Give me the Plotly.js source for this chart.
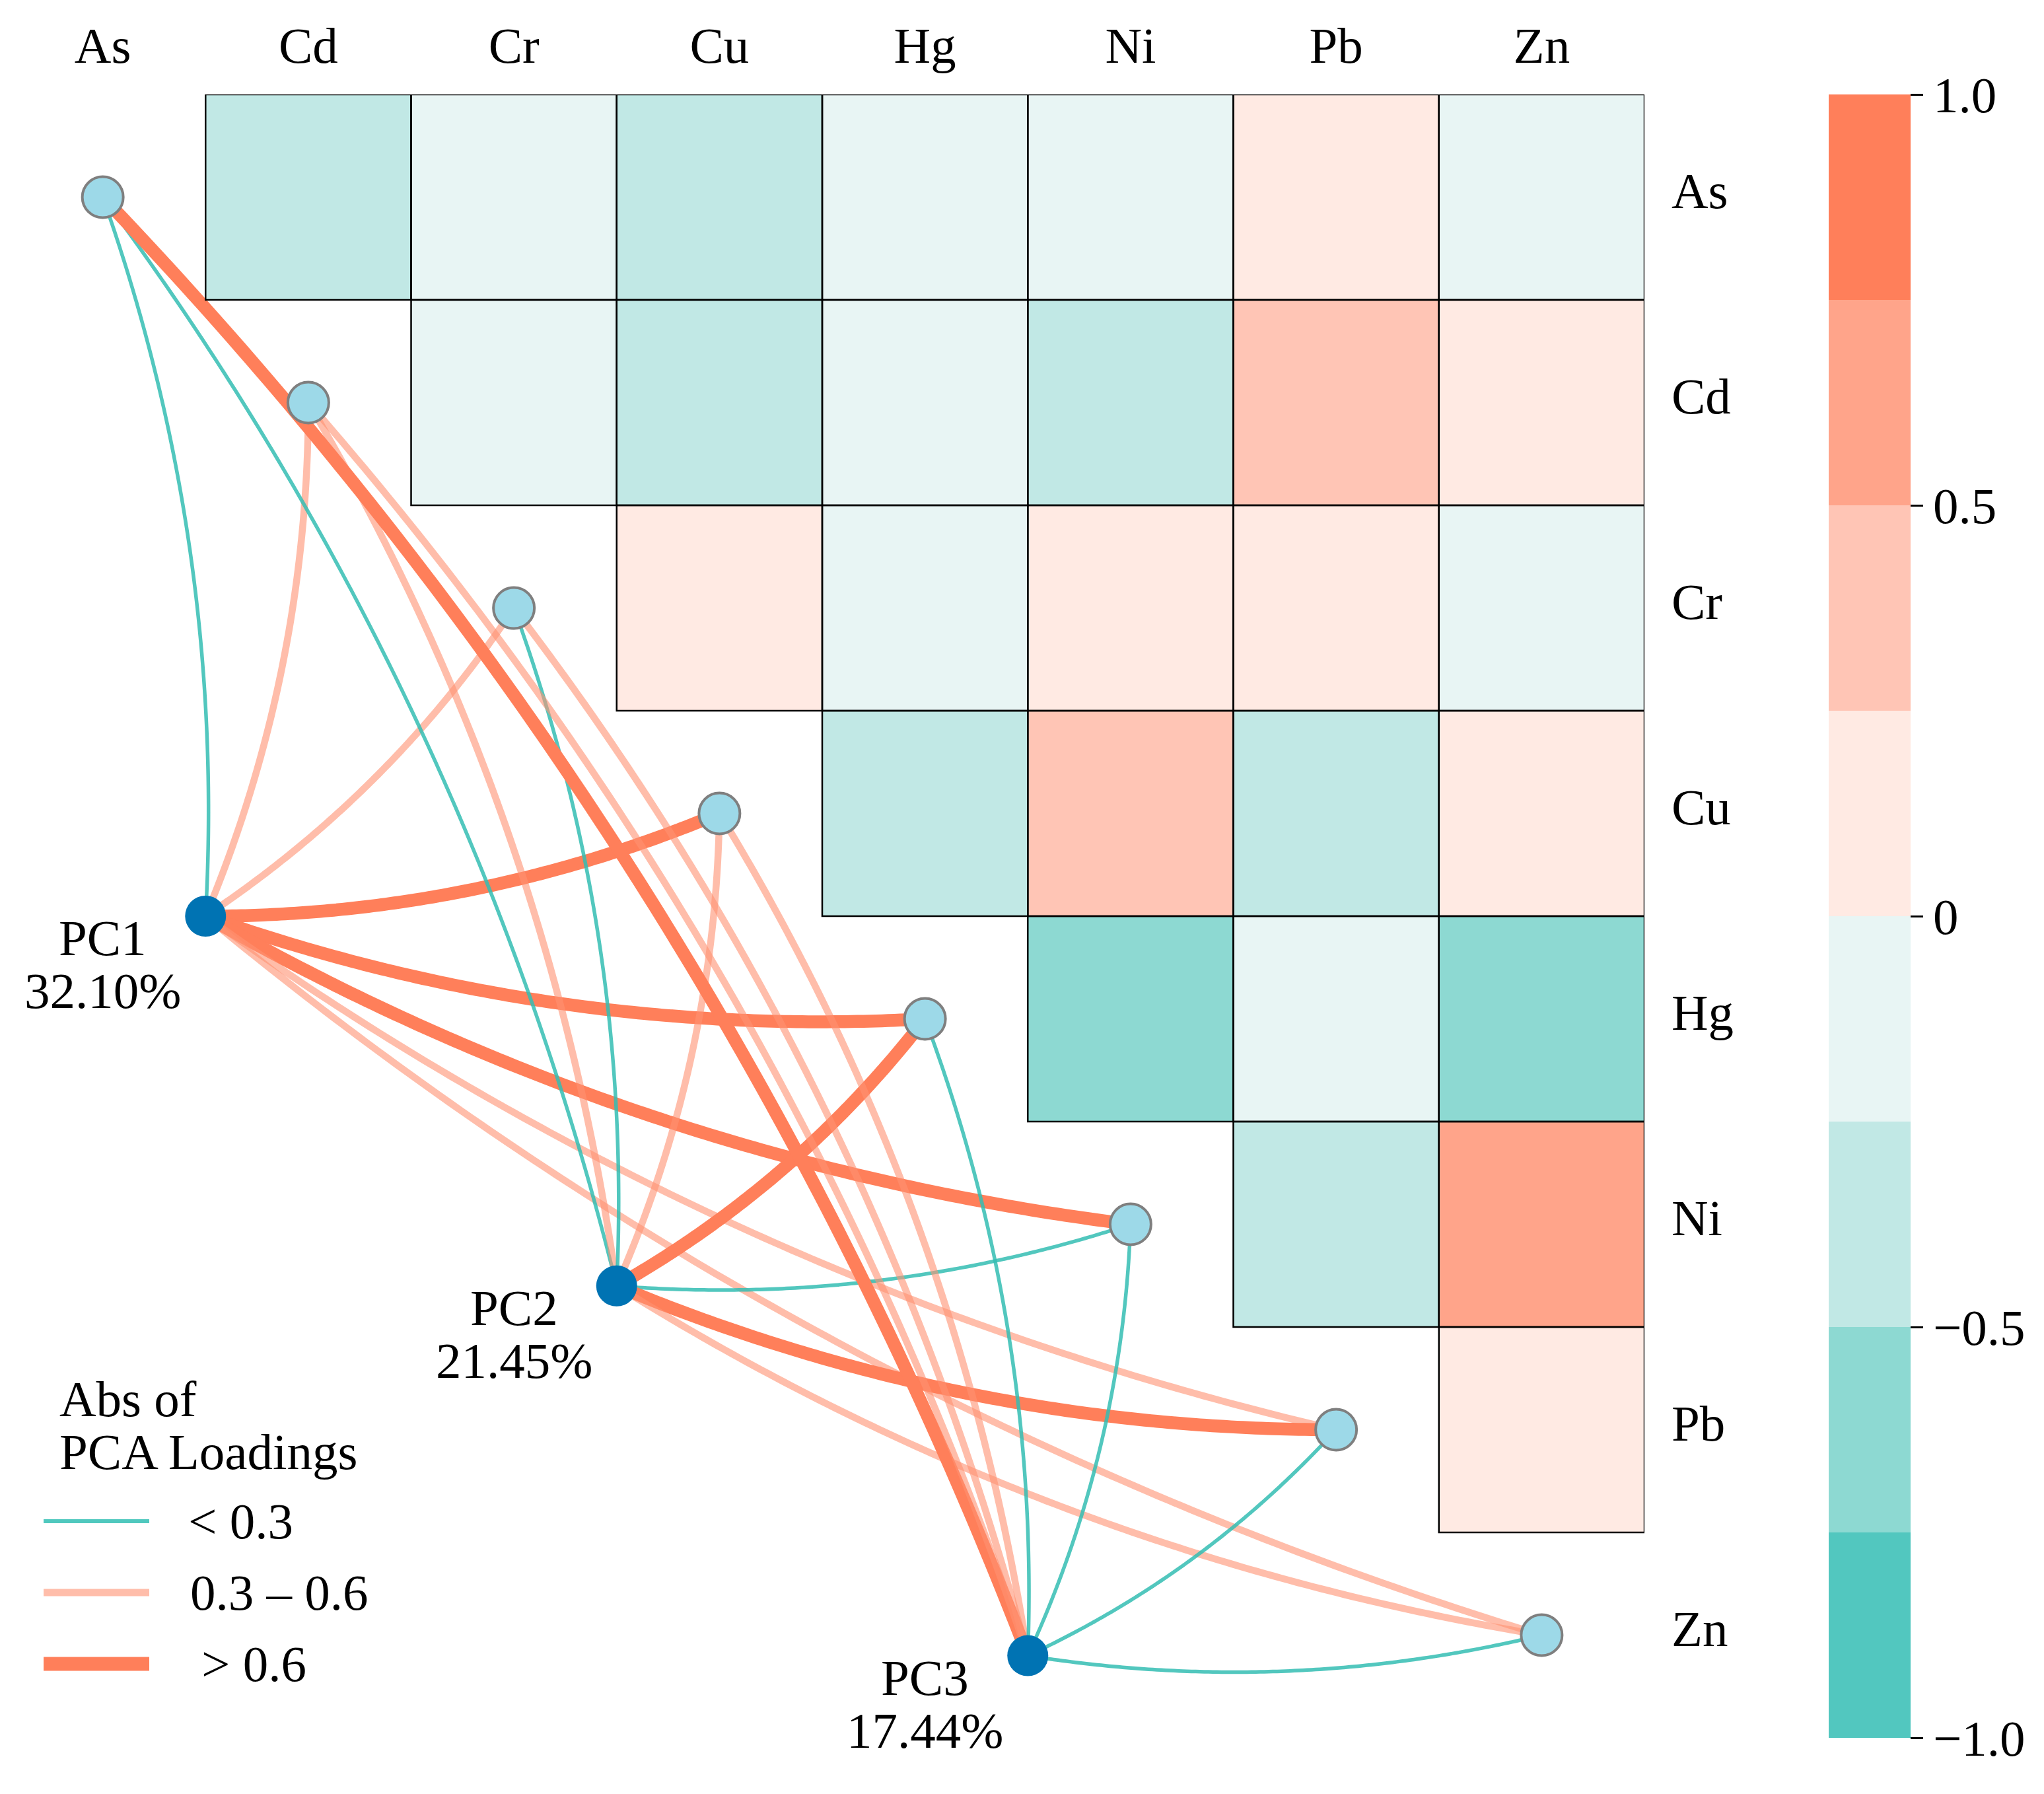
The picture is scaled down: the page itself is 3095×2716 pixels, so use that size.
<!DOCTYPE html>
<html>
<head>
<meta charset="utf-8">
<script src="https://cdn.plot.ly/plotly-3.0.1.min.js"></script>
<style>html,body{margin:0;padding:0;background:#fff;}#chart{width:3095px;height:2716px;}</style>
</head>
<body>
<div id="chart"></div>
<script>
// ---------------- DATA ----------------
const vars = ['As', 'Cd', 'Cr', 'Cu', 'Hg', 'Ni', 'Pb', 'Zn'];

// Correlation (upper triangle), each row against the variables to its right
const corrAs = [-0.32, -0.12, -0.30, -0.08, -0.15, 0.10, -0.05]; // Cd..Zn
const corrCd = [-0.10, -0.28, -0.06, -0.35, 0.38, 0.12];        // Cr..Zn
const corrCr = [0.08, -0.14, 0.15, 0.05, -0.11];                // Cu..Zn
const corrCu = [-0.27, 0.32, -0.30, 0.18];                      // Hg..Zn
const corrHg = [-0.55, -0.09, -0.58];                           // Ni..Zn
const corrNi = [-0.33, 0.56];                                   // Pb..Zn
const corrPb = [0.09];                                          // Zn

// PCA
const pcNames = ['PC1', 'PC2', 'PC3'];
const pcVariance = ['32.10%', '21.45%', '17.44%'];
const pcCol = [0.5, 2.5, 4.5];
const pcRow = [3.5, 5.3, 7.1];
// Absolute loadings, in order As, Cd, Cr, Cu, Hg, Ni, Pb, Zn
const loadPC1 = [0.12, 0.42, 0.38, 0.68, 0.71, 0.66, 0.45, 0.40];
const loadPC2 = [0.20, 0.35, 0.18, 0.41, 0.63, 0.16, 0.69, 0.39];
const loadPC3 = [0.74, 0.44, 0.33, 0.37, 0.22, 0.10, 0.25, 0.14];

const loadBinLabels = ['< 0.3', '0.3 \u2013 0.6', '> 0.6'];
const cbTickVals = [-1, -0.5, 0, 0.5, 1];
const cbTickText = ['\u22121.0', '\u22120.5', '0', '0.5', '1.0'];

// ---------------- STYLE ----------------
const FONT = 'Liberation Serif, Times New Roman, serif';
const FS = 77;
const binColors = ['#52C7BF', '#8DD9D2', '#C1E8E5', '#E8F5F4', '#FFEAE3', '#FFC5B5', '#FFA48A', '#FF7F5A'];
const edgeStyle = [
  {color: 'rgba(52,189,179,0.85)', width: 5.5, legendColor: '#50C8BE'},
  {color: 'rgba(255,145,113,0.6)', width: 10.5, legendColor: '#FFBDAA'},
  {color: 'rgba(255,127,90,1)', width: 19.5, legendColor: '#FF7F5A'}
];
const W = 3095, H = 2716;
const M = {l: 0, r: W - 2490, t: 143, b: H - 2631};
const PW = W - M.l - M.r, PH = H - M.t - M.b;

// ---------------- BUILD ----------------
const corrRows = [corrAs, corrCd, corrCr, corrCu, corrHg, corrNi, corrPb];
const n = vars.length;
const z = [];
for (let i = 0; i < n; i++) {
  const row = [];
  for (let j = 0; j < n; j++) {
    row.push(j > i ? corrRows[i][j - i - 1] : null);
  }
  z.push(row);
}
const idx = vars.map((v, i) => i);

const cs = [];
binColors.forEach((c, k) => { cs.push([k / 8, c]); cs.push([(k + 1) / 8, c]); });

const traces = [];
traces.push({
  type: 'heatmap', x: idx, y: idx, z: z, zmin: -1, zmax: 1,
  colorscale: cs, hoverinfo: 'skip',
  colorbar: {
    x: 2769 / PW, xanchor: 'left', y: 0.5, yanchor: 'middle',
    len: 1, lenmode: 'fraction', thickness: 124, thicknessmode: 'pixels',
    outlinewidth: 0, xpad: 0, ypad: 0,
    ticks: 'outside', ticklen: 19, tickwidth: 3, tickcolor: '#000',
    tickvals: cbTickVals, ticktext: cbTickText,
    tickfont: {family: FONT, size: FS, color: '#000'}
  }
});

function binOf(v) { return v < 0.3 ? 0 : (v <= 0.6 ? 1 : 2); }
const loads = [loadPC1, loadPC2, loadPC3];
const CURV = 0.1;
for (let p = 0; p < pcNames.length; p++) {
  for (let v = 0; v < n; v++) {
    const x0 = pcCol[p], y0 = pcRow[p], x1 = v, y1 = v;
    const dx = x1 - x0, dy = y1 - y0;
    const cx = (x0 + x1) / 2 - dy * CURV, cy = (y0 + y1) / 2 + dx * CURV;
    const xs = [], ys = [];
    for (let k = 0; k <= 120; k++) {
      const t = k / 120, a = (1 - t) * (1 - t), b = 2 * (1 - t) * t, c = t * t;
      xs.push(a * x0 + b * cx + c * x1);
      ys.push(a * y0 + b * cy + c * y1);
    }
    const st = edgeStyle[binOf(loads[p][v])];
    traces.push({type: 'scatter', mode: 'lines', x: xs, y: ys, hoverinfo: 'skip', showlegend: false,
      line: {color: st.color, width: st.width, simplify: false, shape: 'linear'}});
  }
}
// variable nodes
traces.push({type: 'scatter', mode: 'markers', x: idx, y: idx, hoverinfo: 'skip', showlegend: false,
  marker: {size: 62, color: '#9DD9E8', line: {color: '#7F7F7F', width: 4}}});
// PC nodes
traces.push({type: 'scatter', mode: 'markers', x: pcCol, y: pcRow, hoverinfo: 'skip', showlegend: false,
  marker: {size: 62, color: '#0073B3', line: {width: 0}}});

// cell borders
const shapes = [];
for (let i = 0; i < n; i++) for (let j = 0; j < n; j++) {
  if (z[i][j] !== null) shapes.push({type: 'rect', xref: 'x', yref: 'y', x0: j - 0.5, x1: j + 0.5, y0: i - 0.5, y1: i + 0.5,
    line: {color: '#000', width: 2.5}, fillcolor: 'rgba(0,0,0,0)'});
}

// pixel -> paper helpers
const px = x => (x - M.l) / PW;
const py = y => (M.t + PH - y) / PH;

const annotations = [];
pcNames.forEach((nm, p) => {
  annotations.push({x: pcCol[p] - 0.5, y: pcRow[p], xref: 'x', yref: 'y', text: nm, showarrow: false,
    xanchor: 'center', yanchor: 'top', yshift: 12, font: {family: FONT, size: FS, color: '#000'}});
  annotations.push({x: pcCol[p] - 0.5, y: pcRow[p], xref: 'x', yref: 'y', text: pcVariance[p], showarrow: false,
    xanchor: 'center', yanchor: 'top', yshift: -68, font: {family: FONT, size: FS, color: '#000'}});
});

// legend (manual)
const legTitle = ['Abs of', 'PCA Loadings'];
const legTitleTop = [2073, 2153];
legTitle.forEach((t, k) => annotations.push({x: px(88), y: py(legTitleTop[k]), xref: 'paper', yref: 'paper', text: t,
  showarrow: false, xanchor: 'left', yanchor: 'top', font: {family: FONT, size: FS, color: '#000'}}));
const legRowY = [2303, 2411, 2519];
const legTextX = [283, 286, 303];
loadBinLabels.forEach((lab, k) => {
  shapes.push({type: 'line', xref: 'paper', yref: 'paper', x0: px(66), x1: px(226), y0: py(legRowY[k]), y1: py(legRowY[k]),
    line: {color: edgeStyle[k].legendColor, width: edgeStyle[k].width + (k === 2 ? 1.5 : 0.5)}});
  annotations.push({x: px(legTextX[k]), y: py(legRowY[k]), xref: 'paper', yref: 'paper', text: lab, showarrow: false,
    xanchor: 'left', yanchor: 'middle', font: {family: FONT, size: FS, color: '#000'}});
});

const layout = {
  width: W, height: H, margin: M, paper_bgcolor: '#fff', plot_bgcolor: 'rgba(0,0,0,0)',
  showlegend: false,
  xaxis: {range: [-0.5, 7.5], side: 'top', tickvals: idx, ticktext: vars, showgrid: false, zeroline: false,
    showline: false, ticks: '', ticklabelstandoff: 32, tickfont: {family: FONT, size: FS, color: '#000'}, fixedrange: true},
  yaxis: {range: [7.5, -0.5], side: 'right', tickvals: idx, ticktext: vars, showgrid: false, zeroline: false,
    showline: false, ticks: '', ticklabelstandoff: 40, ticklabelshift: 10, tickfont: {family: FONT, size: FS, color: '#000'}, fixedrange: true},
  shapes: shapes, annotations: annotations
};

Plotly.newPlot('chart', traces, layout, {staticPlot: true});
</script>
</body>
</html>
